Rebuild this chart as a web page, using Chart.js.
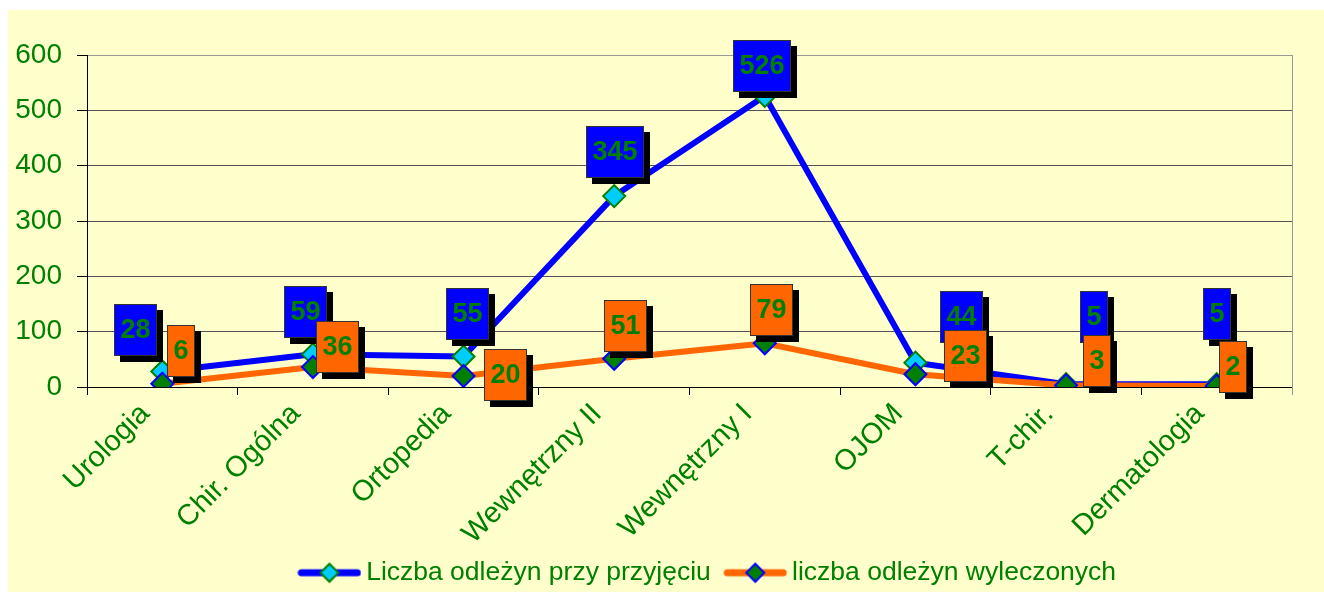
<!DOCTYPE html>
<html>
<head>
<meta charset="utf-8">
<script src="https://cdn.jsdelivr.net/npm/chart.js@4/dist/chart.umd.min.js"></script>
<style>
  html, body { margin: 0; padding: 0; background: #fff; }
  #wrap { position: absolute; left: 8px; top: 10px; width: 1316px; height: 582px; background: #FFFFCC; }
</style>
</head>
<body>
<div id="wrap"><canvas id="chart"></canvas></div>
<script>
// Data
const categories = ['Urologia', 'Chir. Ogólna', 'Ortopedia', 'Wewnętrzny II', 'Wewnętrzny I', 'OJOM', 'T-chir.', 'Dermatologia'];
const admitted = [28, 59, 55, 345, 526, 44, 5, 5];
const healed = [6, 36, 20, 51, 79, 23, 3, 2];
const yTickValues = [0, 100, 200, 300, 400, 500, 600];

// where each value box sits relative to its point (dx, dy of box centre)
const admittedLabelPos = [[-27, -42], [-7, -42], [4, -43], [1, -44], [-3, -30], [46, -46], [28, -67], [0, -70]];
const healedLabelPos = [[19, -33], [25, -20], [42, -1], [11, -33], [7, -33], [50, -18], [31, -24], [16, -19]];

const GREEN = '#008000';
const FONT = '"Liberation Sans", Arial, sans-serif';

// legend swatch: line with a diamond in the middle
function makeSwatch(lineColor, fill, border) {
  const c = document.createElement('canvas');
  c.width = 64; c.height = 24;
  const g = c.getContext('2d');
  g.strokeStyle = lineColor;
  g.lineWidth = 7;
  g.lineCap = 'round';
  g.beginPath(); g.moveTo(4, 12); g.lineTo(60, 12); g.stroke();
  g.fillStyle = fill; g.strokeStyle = border; g.lineWidth = 2;
  g.beginPath();
  g.moveTo(32, 3); g.lineTo(41, 12); g.lineTo(32, 21); g.lineTo(23, 12); g.closePath();
  g.fill(); g.stroke();
  return c;
}

const valueLabels = {
  id: 'valueLabels',
  afterDatasetsDraw(chart) {
    const ctx = chart.ctx;
    ctx.save();
    ctx.font = 'bold 27px ' + FONT;
    ctx.textAlign = 'center';
    ctx.textBaseline = 'middle';
    chart.data.datasets.forEach((ds, i) => {
      const meta = chart.getDatasetMeta(i);
      meta.data.forEach((pt, j) => {
        const text = String(ds.data[j]);
        const [dx, dy] = ds.labelPos[j];
        const w = Math.round(ctx.measureText(text).width + 13);
        const h = 52;
        const x = Math.round(pt.x + dx - w / 2);
        const y = Math.round(pt.y + dy - h / 2);
        ctx.fillStyle = '#000';
        ctx.fillRect(x + 6, y + 6, w, h);
        ctx.fillStyle = ds.labelColor;
        ctx.fillRect(x, y, w, h);
        ctx.strokeStyle = '#333';
        ctx.lineWidth = 1;
        ctx.strokeRect(x + 0.5, y + 0.5, w - 1, h - 1);
        ctx.fillStyle = GREEN;
        ctx.fillText(text, x + w / 2, y + h / 2 + 1);
      });
    });
    ctx.restore();
  }
};

const plotBorder = {
  id: 'plotBorder',
  beforeDatasetsDraw(chart) {
    const { ctx, chartArea } = chart;
    ctx.save();
    ctx.strokeStyle = '#999';
    ctx.lineWidth = 1;
    ctx.beginPath();
    ctx.moveTo(chartArea.right + 0.5, chartArea.top);
    ctx.lineTo(chartArea.right + 0.5, chartArea.bottom + 8);
    ctx.stroke();
    ctx.restore();
  },
  afterLayout(chart) {
    // legend sits right of centre and a little lower in the original
    chart.legend.left += 61;
    chart.legend.right += 61;
    chart.legend.top += 4;
    chart.legend.bottom += 4;
    // let the category labels run down past the legend's top without being clipped
    chart.scales.x.bottom = chart.height;
  }
};

new Chart(document.getElementById('chart'), {
  type: 'line',
  data: {
    labels: categories,
    datasets: [
      {
        label: 'Liczba odleżyn przy przyjęciu',
        data: admitted,
        borderColor: '#0000FF',
        borderWidth: 6,
        pointStyle: 'rectRot',
        pointRadius: 11,
        pointBackgroundColor: '#00CCFF',
        pointBorderColor: GREEN,
        pointBorderWidth: 2,
        tension: 0,
        order: 1,
        labelPos: admittedLabelPos,
        labelColor: '#0000FF',
        swatch: makeSwatch('#0000FF', '#00CCFF', GREEN)
      },
      {
        label: 'liczba odleżyn wyleczonych',
        data: healed,
        borderColor: '#FF6600',
        borderWidth: 6,
        pointStyle: 'rectRot',
        pointRadius: 11,
        pointBackgroundColor: GREEN,
        pointBorderColor: '#0000FF',
        pointBorderWidth: 2,
        tension: 0,
        order: 0,
        labelPos: healedLabelPos,
        labelColor: '#FF6600',
        swatch: makeSwatch('#FF6600', GREEN, '#0000FF')
      }
    ]
  },
  options: {
    responsive: true,
    maintainAspectRatio: false,
    animation: false,
    events: [],
    layout: { padding: { top: 45, right: 32, left: 0, bottom: 0 } },
    scales: {
      x: {
        offset: true,
        grid: { offset: true, drawOnChartArea: false, drawTicks: true, tickLength: 8, tickColor: '#000' },
        border: { color: '#000', width: 1 },
        ticks: {
          color: GREEN,
          font: { family: FONT, size: 29 },
          minRotation: 45,
          maxRotation: 45,
          autoSkip: false,
          labelOffset: -17,
          padding: 2
        },
        afterFit(scale) { scale.height = 205 - scale.chart.legend.height; }
      },
      y: {
        min: 0,
        max: 600,
        afterBuildTicks(scale) { scale.ticks = yTickValues.map(v => ({ value: v })); },
        grid: {
          color: ctx => (ctx.tick && ctx.tick.value === 600 ? '#999' : '#555'),
          tickColor: '#000',
          tickLength: 10,
          lineWidth: 1
        },
        border: { color: '#000', width: 1 },
        ticks: {
          color: GREEN,
          font: { family: FONT, size: 28 },
          padding: 15
        },
        afterFit(scale) { scale.width = 79; }
      }
    },
    plugins: {
      tooltip: { enabled: false },
      legend: {
        position: 'bottom',
        labels: {
          color: GREEN,
          font: { family: FONT, size: 26.5 },
          usePointStyle: true,
          pointStyleWidth: 47,
          padding: 21,
          generateLabels(chart) {
            return chart.data.datasets.map((ds, i) => ({
              text: ds.label,
              fillStyle: ds.borderColor,
              strokeStyle: ds.borderColor,
              lineWidth: 0,
              pointStyle: ds.swatch,
              hidden: false,
              datasetIndex: i,
              fontColor: GREEN
            }));
          }
        }
      }
    }
  },
  plugins: [valueLabels, plotBorder]
});
</script>
</body>
</html>
